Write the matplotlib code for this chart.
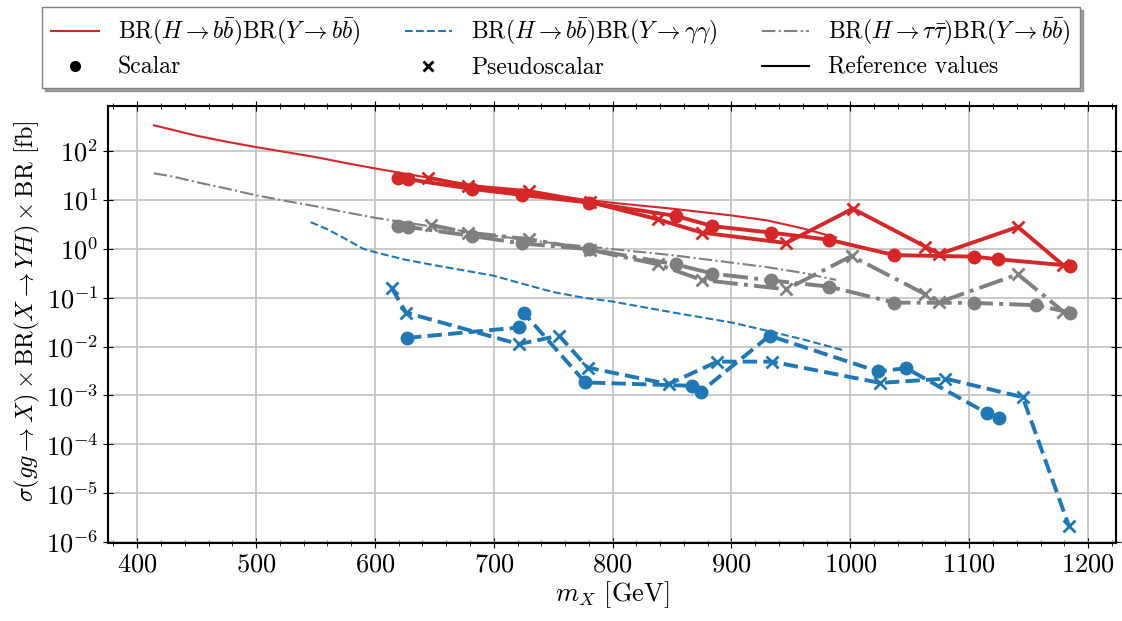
import matplotlib
matplotlib.use('Agg')
import matplotlib.pyplot as plt
from matplotlib.lines import Line2D
from matplotlib.ticker import NullLocator, MultipleLocator, LogLocator

plt.rcParams['font.family'] = 'serif'
plt.rcParams['font.serif'] = ['cmr10']
plt.rcParams['mathtext.fontset'] = 'cm'
plt.rcParams['axes.formatter.use_mathtext'] = True

# reference curves
ref_mx = [414, 430, 450, 475, 500, 525, 550, 575, 600, 650, 700, 750, 800, 850, 900, 930, 960, 988]
ref_bbbb = [335, 270, 205, 155, 120, 95, 75, 57, 44, 27, 17, 12, 8.7, 6.6, 4.8, 3.8, 2.6, 1.7]
ref_tautau = [35, 30, 23, 17, 12.4, 9.5, 7.4, 5.6, 4.3, 2.8, 1.85, 1.3, 0.98, 0.74, 0.52, 0.42, 0.32, 0.23]
ref_mx_gg = [546, 560, 575, 590, 600, 625, 650, 675, 700, 725, 750, 775, 800, 850, 900, 930, 960, 993]
ref_gg = [3.5, 2.5, 1.6, 1.0, 0.85, 0.6, 0.46, 0.36, 0.28, 0.19, 0.13, 0.1, 0.083, 0.05, 0.031, 0.021, 0.014, 0.0085]

# H->bb, Y->bb
bbbb_s_mx = [619, 628, 682, 724, 780, 853, 884, 933, 982, 1037, 1104, 1124, 1185]
bbbb_s = [27.6, 26.4, 16.7, 12.6, 8.8, 4.7, 2.9, 2.14, 1.53, 0.74, 0.69, 0.61, 0.45]
bbbb_p_mx = [645, 678, 730, 781, 838, 875, 946, 1002, 1063, 1075, 1141, 1179]
bbbb_p = [28.5, 19.3, 15, 9, 4.0, 2.14, 1.31, 6.6, 1.11, 0.78, 2.8, 0.46]

# H->tautau, Y->bb
tt_s_mx = [619, 628, 682, 724, 780, 853, 884, 933, 982, 1037, 1104, 1156, 1185]
tt_s = [2.92, 2.79, 1.82, 1.28, 0.98, 0.48, 0.31, 0.225, 0.168, 0.079, 0.078, 0.070, 0.0495]
tt_p_mx = [647, 678, 730, 781, 838, 875, 946, 1001, 1063, 1075, 1141, 1179]
tt_p = [3.07, 2.14, 1.56, 0.95, 0.48, 0.23, 0.148, 0.71, 0.117, 0.081, 0.30, 0.052]

# H->bb, Y->gamma gamma
gg_s_mx = [627, 721, 725, 777, 867, 874, 932, 1023, 1047, 1115, 1125]
gg_s = [0.015, 0.0245, 0.0495, 0.00184, 0.00157, 0.00118, 0.0166, 0.0031, 0.0036, 0.00043, 0.00034]
gg_p_mx = [614, 626, 721, 755, 779, 847, 888, 934, 1025, 1080, 1145, 1184]
gg_p = [0.16, 0.0495, 0.0112, 0.0166, 0.0037, 0.0017, 0.0049, 0.0049, 0.0018, 0.0022, 0.00092, 2.1e-6]

RED = 'tab:red'
BLUE = 'tab:blue'
GRAY = 'tab:gray'

fig = plt.figure(figsize=(11.22, 6.21), dpi=100)
ax = fig.add_axes([0.0963, 0.1256, 0.8984, 0.7037])

ax.plot(ref_mx, ref_bbbb, color=RED, ls='-', lw=1.5)
ax.plot(ref_mx_gg, ref_gg, color=BLUE, ls='--', lw=1.5)
ax.plot(ref_mx, ref_tautau, color=GRAY, ls='-.', lw=1.5)

thick = dict(lw=2.8, ms=8, mew=2)
ax.plot(bbbb_s_mx, bbbb_s, color=RED, ls='-', marker='o', **thick)
ax.plot(bbbb_p_mx, bbbb_p, color=RED, ls='-', marker='x', **thick)
ax.plot(tt_s_mx, tt_s, color=GRAY, ls='-.', marker='o', **thick)
ax.plot(tt_p_mx, tt_p, color=GRAY, ls='-.', marker='x', **thick)
ax.plot(gg_s_mx, gg_s, color=BLUE, ls='--', marker='o', **thick)
ax.plot(gg_p_mx, gg_p, color=BLUE, ls='--', marker='x', **thick)

ax.set_yscale('log')
ax.set_ylim(10**-6.02, 10**2.92)
ax.yaxis.set_major_locator(LogLocator(base=10, numticks=20))
ax.yaxis.set_minor_locator(NullLocator())
ax.xaxis.set_major_locator(MultipleLocator(100))
ax.xaxis.set_minor_locator(MultipleLocator(20))
ax.grid(True, which='major', color='#c0c0c0', lw=1.2)
ax.tick_params(which='both', direction='inout', top=True, right=True, labelsize=19)
ax.tick_params(which='major', length=7)
ax.tick_params(which='minor', length=4)
for s in ax.spines.values():
    s.set_linewidth(1.5)

ax.set_xlabel(r'$m_X$ [GeV]', fontsize=19, labelpad=2)
ax.set_ylabel(r'$\sigma(gg\to X)\times\mathrm{BR}(X\to YH)\times\mathrm{BR}$ [fb]', fontsize=17.5)
ax.yaxis.set_label_coords(-0.066, 0.53)

handles = [
    Line2D([], [], color=RED, ls='-', lw=1.5),
    Line2D([], [], color='k', ls='', marker='o', ms=7),
    Line2D([], [], color=BLUE, ls='--', lw=1.5),
    Line2D([], [], color='k', ls='', marker='x', ms=7, mew=2),
    Line2D([], [], color=GRAY, ls='-.', lw=1.5),
    Line2D([], [], color='k', ls='-', lw=1.5),
]
labels = [
    r'$\mathrm{BR}(H\to b\bar{b})\mathrm{BR}(Y\to b\bar{b})$',
    'Scalar',
    r'$\mathrm{BR}(H\to b\bar{b})\mathrm{BR}(Y\to \gamma\gamma)$',
    'Pseudoscalar',
    r'$\mathrm{BR}(H\to \tau\bar{\tau})\mathrm{BR}(Y\to b\bar{b})$',
    'Reference values',
]
leg = fig.legend(handles, labels, ncol=3, loc='upper center', bbox_to_anchor=(0.5, 1.0),
                 borderaxespad=0.3, fontsize=17, fancybox=False, shadow=True, framealpha=1,
                 edgecolor='0.5', columnspacing=1.9, labelspacing=0.4)

fig.savefig('out.png', dpi=100)
